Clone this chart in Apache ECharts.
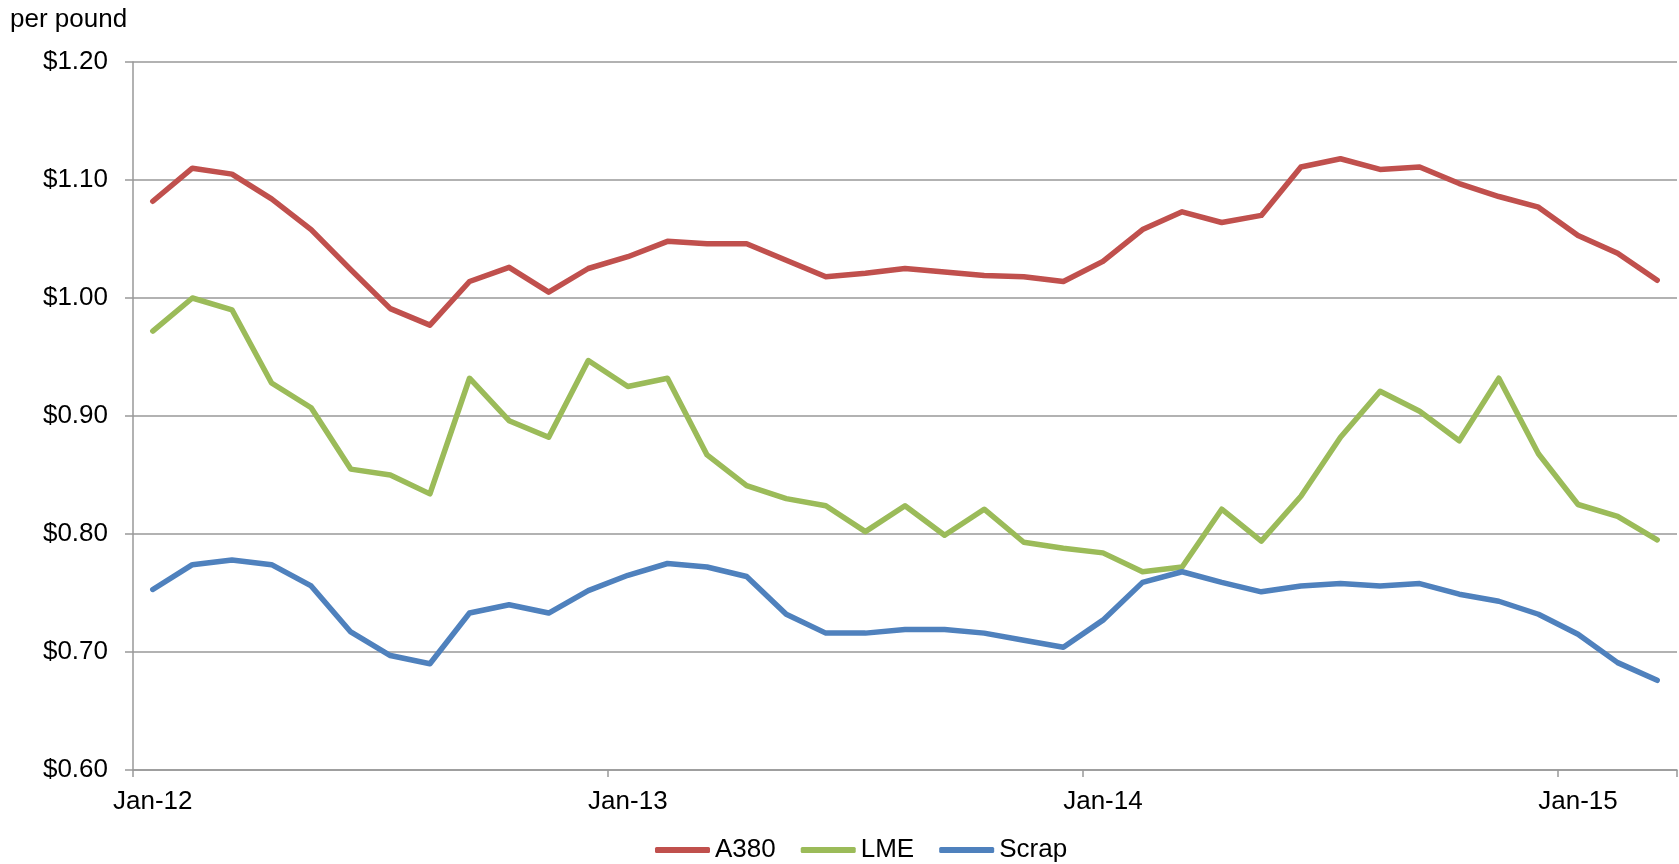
<html>
<head>
    <meta http-equiv="Content-Type" content="text/html; charset=utf-8" />
    <style>
        html, body { margin: 0; padding: 0; background: #fff; }
    </style>
</head>
<script type="text/javascript" src="https://cdn.jsdelivr.net/npm/echarts@6/dist/echarts.min.js"></script>
<body>
<div id="main" style="width: 1679px;height:864px;"></div>
</body>
<script type="text/javascript">
    // months, Jan-12 .. Mar-15
    var months = ['Jan-12', 'Feb-12', 'Mar-12', 'Apr-12', 'May-12', 'Jun-12', 'Jul-12', 'Aug-12', 'Sep-12', 'Oct-12', 'Nov-12', 'Dec-12',
                  'Jan-13', 'Feb-13', 'Mar-13', 'Apr-13', 'May-13', 'Jun-13', 'Jul-13', 'Aug-13', 'Sep-13', 'Oct-13', 'Nov-13', 'Dec-13',
                  'Jan-14', 'Feb-14', 'Mar-14', 'Apr-14', 'May-14', 'Jun-14', 'Jul-14', 'Aug-14', 'Sep-14', 'Oct-14', 'Nov-14', 'Dec-14',
                  'Jan-15', 'Feb-15', 'Mar-15'];

    var a380 = [1.082, 1.110, 1.105, 1.084, 1.058, 1.024, 0.991, 0.977, 1.014, 1.026, 1.005, 1.025,
                1.035, 1.048, 1.046, 1.046, 1.032, 1.018, 1.021, 1.025, 1.022, 1.019, 1.018, 1.014,
                1.031, 1.058, 1.073, 1.064, 1.070, 1.111, 1.118, 1.109, 1.111, 1.097, 1.086, 1.077,
                1.053, 1.038, 1.015];

    var lme = [0.972, 1.000, 0.990, 0.928, 0.907, 0.855, 0.850, 0.834, 0.932, 0.896, 0.882, 0.947,
               0.925, 0.932, 0.867, 0.841, 0.830, 0.824, 0.802, 0.824, 0.799, 0.821, 0.793, 0.788,
               0.784, 0.768, 0.772, 0.821, 0.794, 0.832, 0.882, 0.921, 0.904, 0.879, 0.932, 0.868,
               0.825, 0.815, 0.795];

    var scrap = [0.753, 0.774, 0.778, 0.774, 0.756, 0.717, 0.697, 0.690, 0.733, 0.740, 0.733, 0.752,
                 0.765, 0.775, 0.772, 0.764, 0.732, 0.716, 0.716, 0.719, 0.719, 0.716, 0.710, 0.704,
                 0.727, 0.759, 0.768, 0.759, 0.751, 0.756, 0.758, 0.756, 0.758, 0.749, 0.743, 0.732,
                 0.715, 0.691, 0.676];

    var yTicks = [0.60, 0.70, 0.80, 0.90, 1.00, 1.10, 1.20];

    var fontFam = '"Liberation Sans", Arial, sans-serif';
    var gridGrey = '#999999';

    var myChart = echarts.init(document.getElementById('main'), null, { renderer: 'canvas' });

    function mkLine(name, data, color) {
        return {
            name: name,
            type: 'line',
            data: data,
            symbol: 'none',
            smooth: false,
            lineStyle: { color: color, width: 5.5, cap: 'round', join: 'round' },
            itemStyle: { color: color }
        };
    }

    var option = {
        animation: false,
        title: {
            text: 'per pound',
            left: 5,
            top: 2,
            textStyle: { fontFamily: fontFam, fontSize: 26, fontWeight: 'normal', color: '#000' }
        },
        legend: {
            left: 650,
            top: 832,
            itemWidth: 55,
            itemHeight: 6,
            itemGap: 25,
            icon: 'roundRect',
            textStyle: { fontFamily: fontFam, fontSize: 26, color: '#000' },
            data: ['A380', 'LME', 'Scrap']
        },
        grid: { left: 133, right: 2, top: 62, bottom: 94, containLabel: false },
        xAxis: {
            type: 'category',
            data: months,
            boundaryGap: true,
            axisLine: { show: true, lineStyle: { color: gridGrey, width: 1.5 } },
            axisTick: { show: true, interval: 11, length: 7, lineStyle: { color: gridGrey, width: 1.5 } },
            axisLabel: { interval: 11, margin: 19, fontFamily: fontFam, fontSize: 26, color: '#000' },
            splitLine: { show: false }
        },
        yAxis: {
            type: 'value',
            min: yTicks[0],
            max: yTicks[yTicks.length - 1],
            interval: 0.1,
            axisLine: { show: true, lineStyle: { color: gridGrey, width: 1.5 } },
            axisTick: { show: true, length: 8, lineStyle: { color: gridGrey, width: 1.5 } },
            axisLabel: {
                margin: 25,
                fontFamily: fontFam, fontSize: 26, color: '#000',
                formatter: function (v) { return '$' + v.toFixed(2); }
            },
            splitLine: { show: true, lineStyle: { color: gridGrey, width: 1.5 } }
        },
        series: [
            mkLine('A380', a380, '#c0504d'),
            mkLine('LME', lme, '#9bbb59'),
            mkLine('Scrap', scrap, '#4f81bd')
        ]
    };

    myChart.setOption(option);
</script>
</html>
